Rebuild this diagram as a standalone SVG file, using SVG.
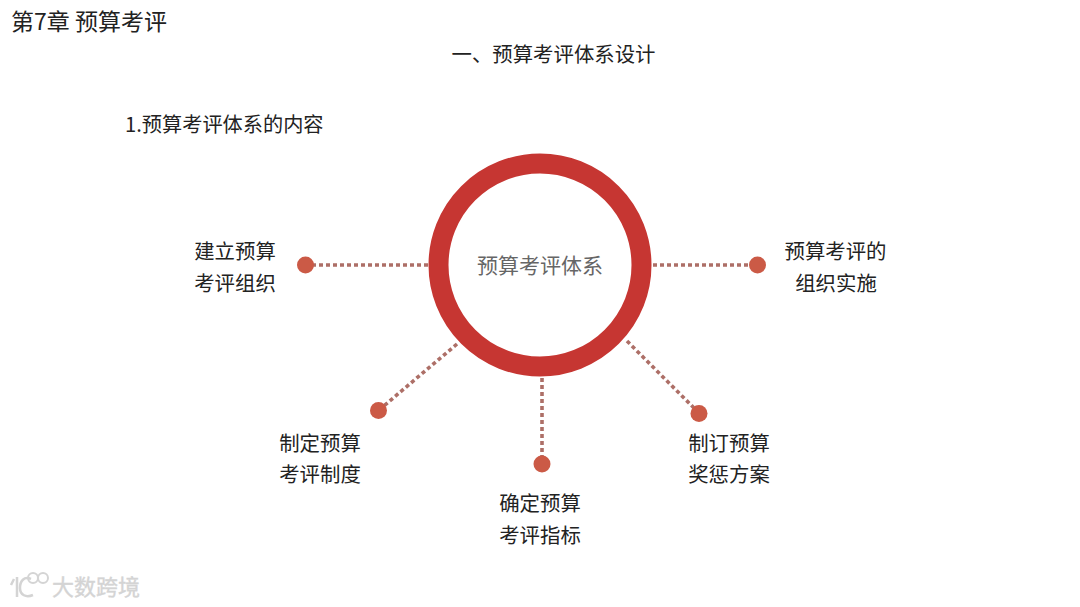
<svg xmlns="http://www.w3.org/2000/svg" width="1080" height="607" viewBox="0 0 1080 607">
<style>
text{font-family:"Noto Sans CJK SC","Liberation Sans",sans-serif;font-size:20.4px;fill:#222;text-anchor:middle}
.l{text-anchor:start}
.conn{fill:none;stroke:#ad6f67;stroke-width:3.600;stroke-dasharray:4 3}
.dot{fill:#cb5a46}
</style>
<rect width="1080" height="607" fill="#fff"/>
<text class="l" x="11" y="30" style="font-size:23px">第7章 预算考评</text>
<text x="553.500" y="62">一、预算考评体系设计</text>
<text class="l" x="125" y="131.500" style="font-size:20.200px">1.预算考评体系的内容</text>
<g id="connectors">
<path class="conn" d="M428 265H305"/>
<path class="conn" d="M653 265H757"/>
<path class="conn" d="M457 344L379 410"/>
<path class="conn" d="M542 378V463"/>
<path class="conn" d="M627 341L699 413"/>
</g>
<g id="hub"><circle cx="540" cy="265" r="101.500" fill="#fff" stroke="#c63632" stroke-width="20"/><text x="540" y="272.500" style="fill:#666;font-size:21px">预算考评体系</text></g>
<g id="n1"><circle class="dot" cx="305.500" cy="265" r="8.500"/><text x="235" y="259">建立预算</text><text x="235" y="291">考评组织</text></g>
<g id="n2"><circle class="dot" cx="757.500" cy="265" r="8.500"/><text x="835.500" y="259">预算考评的</text><text x="836" y="291">组织实施</text></g>
<g id="n3"><circle class="dot" cx="378.500" cy="410.500" r="8.500"/><text x="320" y="450.500">制定预算</text><text x="320" y="482">考评制度</text></g>
<g id="n4"><circle class="dot" cx="542" cy="464" r="8.500"/><text x="540" y="510.500">确定预算</text><text x="540" y="542.500">考评指标</text></g>
<g id="n5"><circle class="dot" cx="699" cy="413.500" r="8.500"/><text x="729" y="450.500">制订预算</text><text x="729" y="482">奖惩方案</text></g>
<g id="watermark">
<path d="M14 579L11 585M17 577V597M31 579C24 576 20 581 20 588C20 595 26 598 33 595" fill="none" stroke="#d4d4d4" stroke-width="2.500"/>
<circle cx="33" cy="578" r="5" fill="none" stroke="#d4d4d4" stroke-width="2"/>
<circle cx="43" cy="578" r="5" fill="none" stroke="#d4d4d4" stroke-width="2"/>
<text class="l" x="52" y="595" style="font-size:22px;fill:#d4d4d4;stroke:#d4d4d4;stroke-width:.4px">大数跨境</text>
</g>
</svg>
